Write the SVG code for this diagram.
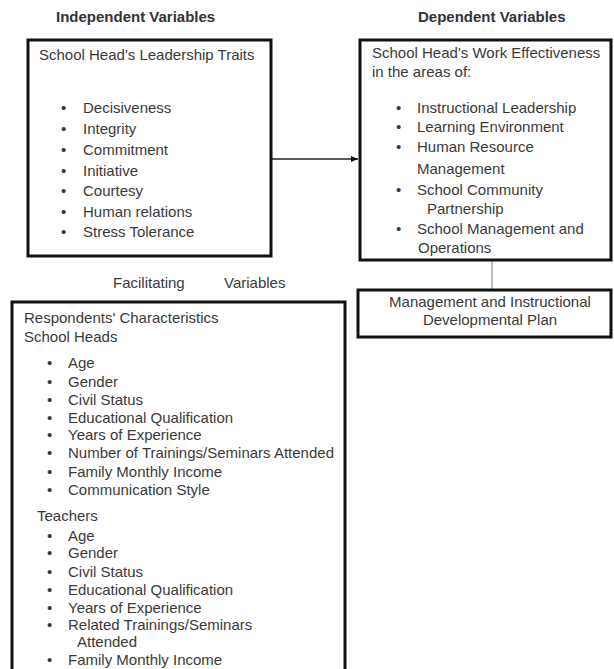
<svg xmlns="http://www.w3.org/2000/svg" width="614" height="669" viewBox="0 0 614 669">
<defs>
<style>
text{font-family:"Liberation Sans",Arial,sans-serif;font-size:15px;fill:#3a3a3a}
.hd{font-weight:bold;fill:#333}
.box{fill:#fff;stroke:#111;stroke-width:3}
.c{text-anchor:middle}
.conn{stroke:#222;stroke-width:1.3;fill:none}
.thin{stroke:#777;stroke-width:1;fill:none}
</style>
<marker id="ah" markerWidth="8" markerHeight="8" refX="7" refY="4" orient="auto" markerUnits="userSpaceOnUse">
<path d="M0,1 L7,4 L0,7 Z" fill="#111"/>
</marker>
</defs>
<rect width="614" height="669" fill="#fff"/>
<text class="hd" x="56" y="22">Independent Variables</text>
<text class="hd" x="418" y="22">Dependent Variables</text>
<text x="113" y="288">Facilitating</text>
<text x="224" y="288">Variables</text>

<g id="connectors">
<line class="conn" x1="272" y1="159" x2="358" y2="159" marker-end="url(#ah)"/>
<line class="thin" x1="492" y1="261" x2="492" y2="290"/>
</g>

<g id="leadership-traits">
<rect class="box" x="28" y="40" width="243" height="216"/>
<text x="39" y="60">School Head's Leadership Traits</text>
<g>
<text x="61" y="113">•</text><text x="83" y="113">Decisiveness</text>
<text x="61" y="134">•</text><text x="83" y="134">Integrity</text>
<text x="61" y="155">•</text><text x="83" y="155">Commitment</text>
<text x="61" y="176">•</text><text x="83" y="176">Initiative</text>
<text x="61" y="196">•</text><text x="83" y="196">Courtesy</text>
<text x="61" y="217">•</text><text x="83" y="217">Human relations</text>
<text x="61" y="237">•</text><text x="83" y="237">Stress Tolerance</text>
</g>
</g>

<g id="work-effectiveness">
<rect class="box" x="360" y="40" width="251" height="220"/>
<text x="372" y="58">School Head's Work Effectiveness</text>
<text x="372" y="77">in the areas of:</text>
<text x="396" y="113">•</text><text x="417" y="113">Instructional Leadership</text>
<text x="396" y="132">•</text><text x="417" y="132">Learning Environment</text>
<text x="396" y="152">•</text><text x="417" y="152">Human Resource</text>
<text x="417" y="174">Management</text>
<text x="396" y="195">•</text><text x="417" y="195">School Community</text>
<text x="427" y="214">Partnership</text>
<text x="396" y="234">•</text><text x="417" y="234">School Management and</text>
<text x="418" y="253">Operations</text>
</g>

<g id="development-plan">
<rect class="box" x="358" y="290" width="253" height="47"/>
<text class="c" x="490" y="307">Management and Instructional</text>
<text class="c" x="490" y="325">Developmental Plan</text>
</g>

<g id="respondents">
<rect class="box" x="12" y="302" width="333" height="380"/>
<text x="24" y="323">Respondents' Characteristics</text>
<text x="24" y="342">School Heads</text>
<text x="47" y="368">•</text><text x="68" y="368">Age</text>
<text x="47" y="387">•</text><text x="68" y="387">Gender</text>
<text x="47" y="405">•</text><text x="68" y="405">Civil Status</text>
<text x="47" y="423">•</text><text x="68" y="423">Educational Qualification</text>
<text x="47" y="440">•</text><text x="68" y="440">Years of Experience</text>
<text x="47" y="458">•</text><text x="68" y="458">Number of Trainings/Seminars Attended</text>
<text x="47" y="477">•</text><text x="68" y="477">Family Monthly Income</text>
<text x="47" y="495">•</text><text x="68" y="495">Communication Style</text>
<text x="37" y="521">Teachers</text>
<text x="47" y="541">•</text><text x="68" y="541">Age</text>
<text x="47" y="558">•</text><text x="68" y="558">Gender</text>
<text x="47" y="577">•</text><text x="68" y="577">Civil Status</text>
<text x="47" y="595">•</text><text x="68" y="595">Educational Qualification</text>
<text x="47" y="613">•</text><text x="68" y="613">Years of Experience</text>
<text x="47" y="630">•</text><text x="68" y="630">Related Trainings/Seminars</text>
<text x="77" y="647">Attended</text>
<text x="47" y="665">•</text><text x="68" y="665">Family Monthly Income</text>
</g>
</svg>
